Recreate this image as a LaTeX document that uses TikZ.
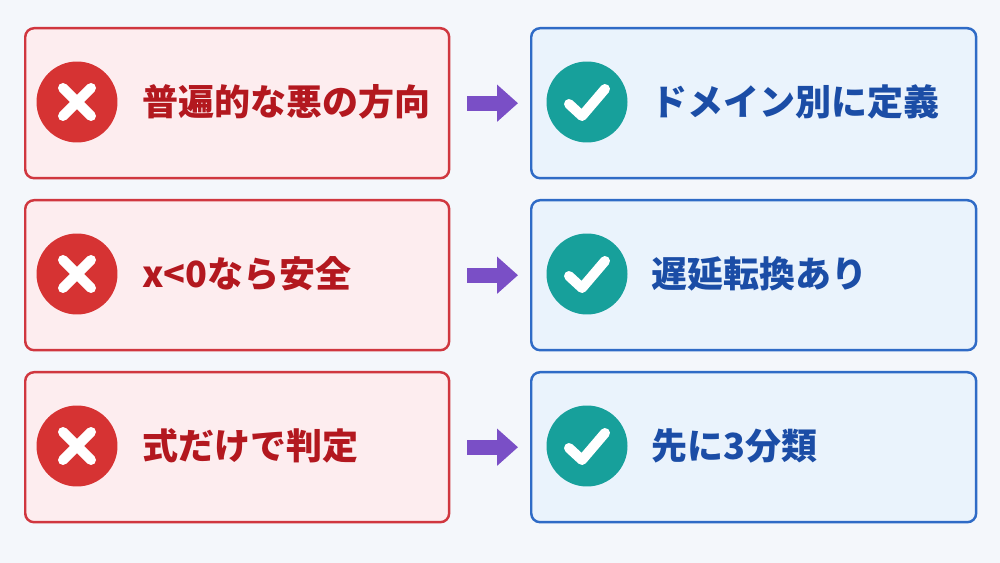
\documentclass[tikz,border=0pt]{standalone}
\usepackage{fontspec}
\newfontfamily\cjk{Noto Sans CJK JP}
\usetikzlibrary{arrows.meta,calc}
\definecolor{bg}{HTML}{F4F7FB}
\definecolor{lfill}{HTML}{FDEDEF}
\definecolor{lline}{HTML}{D0373F}
\definecolor{ltext}{HTML}{B3181F}
\definecolor{rfill}{HTML}{EAF3FC}
\definecolor{rline}{HTML}{2F6BC6}
\definecolor{rtext}{HTML}{1B4DA6}
\definecolor{xred}{HTML}{D63333}
\definecolor{teal}{HTML}{17A09B}
\definecolor{purp}{HTML}{7A4FC6}
\begin{document}
\begin{tikzpicture}[x=0.02cm,y=-0.02cm,
  lbox/.style={draw=lline,fill=lfill,line width=1.4pt,rounded corners=5pt,minimum width=8.48cm,minimum height=3.0cm,anchor=north west,inner sep=0},
  rbox/.style={draw=rline,fill=rfill,line width=1.4pt,rounded corners=5pt,minimum width=8.9cm,minimum height=3.0cm,anchor=north west,inner sep=0},
  xc/.style={circle,fill=xred,minimum size=1.62cm,inner sep=0},
  cc/.style={circle,fill=teal,minimum size=1.62cm,inner sep=0},
  lt/.style={anchor=west,text=ltext,font=\cjk\bfseries\fontsize{20.5}{24}\selectfont},
  rt/.style={anchor=west,text=rtext,font=\cjk\bfseries\fontsize{20.5}{24}\selectfont},
  arr/.style={draw=purp,line width=0.3cm,-{Triangle[length=0.42cm,width=0.72cm]},shorten <=0.34cm,shorten >=0.24cm},
  glyph/.style={white,line width=0.2cm,line cap=round,line join=round}]
\fill[bg] (0,0) rectangle (1000,563);
\useasboundingbox (0,0) rectangle (1000,563);
\foreach \i/\y/\lt/\rt in {1/27/普遍的な悪の方向/ドメイン別に定義,2/199/x<0なら安全/遅延転換あり,3/371/式だけで判定/先に3分類}{
  \node[lbox] (l\i) at (24,\y) {};
  \node[rbox] (r\i) at (530,\y) {};
  \node[xc] (x\i) at (77,\y+75) {};
  \draw[glyph] ($(x\i)+(-14,-14)$) -- ($(x\i)+(14,14)$) ($(x\i)+(-14,14)$) -- ($(x\i)+(14,-14)$);
  \node[cc] (c\i) at (587,\y+75) {};
  \draw[glyph] ($(c\i)+(-18,2)$) -- ($(c\i)+(-5,14)$) -- ($(c\i)+(18,-13)$);
  \node[lt] (lt\i) at (136,\y+75) {\lt};
  \node[rt] (rt\i) at (645,\y+75) {\rt};
  \draw[arr] (l\i.east) -- (r\i.west);
}
\end{tikzpicture}
\end{document}
